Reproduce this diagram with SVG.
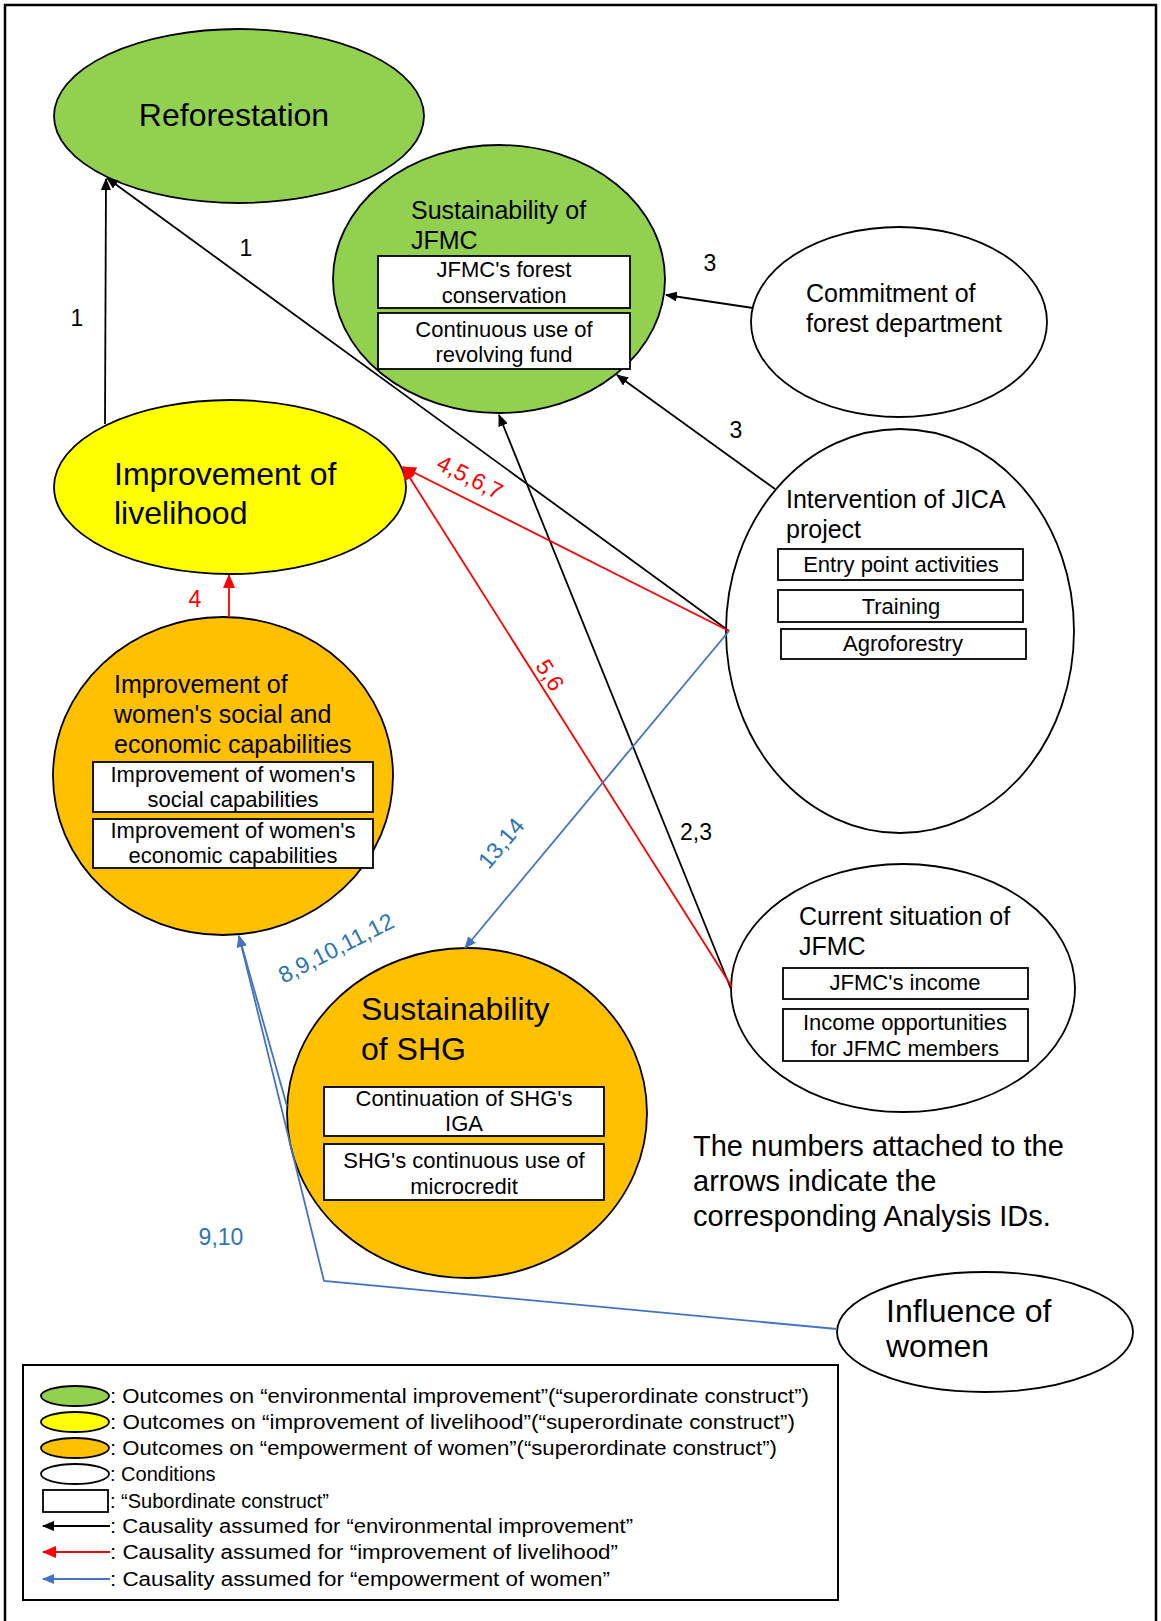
<svg xmlns="http://www.w3.org/2000/svg" width="1161" height="1621" viewBox="0 0 1161 1621">
<style>
  text { font-family: "Liberation Sans", Arial, sans-serif; fill: #000; }
  .node { stroke: #000; stroke-width: 1.8; }
  .green { fill: #92D050; }
  .yellow { fill: #FFFF00; }
  .orange { fill: #FFC000; }
  .cond { fill: #FFFFFF; }
  .box { fill: #FFFFFF; stroke: #000; stroke-width: 1.8; }
  .big { font-size: 32px; }
  .title { font-size: 25px; }
  .bt { font-size: 22px; text-anchor: middle; }
  .note { font-size: 29px; }
  .conn { fill: none; stroke-width: 1.8; }
  .k { stroke: #000; }
  .r { stroke: #FF0000; }
  .b { stroke: #4472C4; }
  .lbl { font-size: 23px; }
  .lk { fill: #000; }
  .lr { fill: #FF0000; }
  .lb { fill: #2E75B6; }
  .lg { font-size: 20px; }
</style>
<defs>
  <marker id="ak" viewBox="0 0 12 10" refX="11" refY="5" markerWidth="12" markerHeight="10" markerUnits="userSpaceOnUse" orient="auto">
    <path d="M0,0 L12,5 L0,10 z" fill="#000"/>
  </marker>
  <marker id="ar" viewBox="0 0 14 12" refX="13" refY="6" markerWidth="14" markerHeight="12" markerUnits="userSpaceOnUse" orient="auto">
    <path d="M0,0 L14,6 L0,12 z" fill="#FF0000"/>
  </marker>
  <marker id="ab" viewBox="0 0 12 10" refX="11" refY="5" markerWidth="12" markerHeight="10" markerUnits="userSpaceOnUse" orient="auto">
    <path d="M0,0 L12,5 L0,10 z" fill="#4472C4"/>
  </marker>
</defs>

<rect width="1161" height="1621" fill="#FFFFFF"/>
<!-- page frame (open at the bottom) -->
<path d="M5,1621 V5 H1156 V1621" fill="none" stroke="#000" stroke-width="2.5"/>

<!-- Reforestation -->
<g id="reforestation">
  <ellipse class="node green" cx="239" cy="116" rx="185" ry="87"/>
  <text class="big" x="234" y="126" text-anchor="middle">Reforestation</text>
</g>

<!-- Sustainability of JFMC -->
<g id="jfmc-sustainability">
  <ellipse class="node green" cx="499" cy="279" rx="166" ry="134"/>
  <text class="title" x="411" y="219">Sustainability of</text>
  <text class="title" x="411" y="249">JFMC</text>
  <rect class="box" x="378" y="256" width="252" height="52"/>
  <text class="bt" x="504" y="277">JFMC's forest</text>
  <text class="bt" x="504" y="303">conservation</text>
  <rect class="box" x="378" y="313" width="252" height="56"/>
  <text class="bt" x="504" y="337">Continuous use of</text>
  <text class="bt" x="504" y="362">revolving fund</text>
</g>

<!-- Commitment of forest department -->
<g id="commitment">
  <ellipse class="node cond" cx="899" cy="322" rx="148" ry="95"/>
  <text class="title" x="806" y="302">Commitment of</text>
  <text class="title" x="806" y="332">forest department</text>
</g>

<!-- Improvement of livelihood -->
<g id="livelihood">
  <ellipse class="node yellow" cx="230" cy="487" rx="176" ry="87"/>
  <text class="big" x="114" y="485">Improvement of</text>
  <text class="big" x="114" y="524">livelihood</text>
</g>

<!-- Intervention of JICA project -->
<g id="jica-intervention">
  <ellipse class="node cond" cx="900" cy="631" rx="174" ry="202"/>
  <text class="title" x="786" y="508">Intervention of JICA</text>
  <text class="title" x="786" y="538">project</text>
  <rect class="box" x="778" y="549" width="245" height="31"/>
  <text class="bt" x="901" y="572">Entry point activities</text>
  <rect class="box" x="778" y="590" width="245" height="32"/>
  <text class="bt" x="901" y="614">Training</text>
  <rect class="box" x="781" y="629" width="245" height="30"/>
  <text class="bt" x="903" y="651">Agroforestry</text>
</g>

<!-- Improvement of women's social and economic capabilities -->
<g id="women-capabilities">
  <ellipse class="node orange" cx="223" cy="776" rx="170" ry="159"/>
  <text class="title" x="114" y="693">Improvement of</text>
  <text class="title" x="114" y="723">women's social and</text>
  <text class="title" x="114" y="753">economic capabilities</text>
  <rect class="box" x="93" y="762" width="280" height="50"/>
  <text class="bt" x="233" y="782">Improvement of women's</text>
  <text class="bt" x="233" y="807">social capabilities</text>
  <rect class="box" x="93" y="819" width="280" height="49"/>
  <text class="bt" x="233" y="838">Improvement of women's</text>
  <text class="bt" x="233" y="863">economic capabilities</text>
</g>

<!-- Current situation of JFMC -->
<g id="jfmc-current">
  <ellipse class="node cond" cx="903" cy="988" rx="172" ry="124"/>
  <text class="title" x="799" y="925">Current situation of</text>
  <text class="title" x="799" y="955">JFMC</text>
  <rect class="box" x="783" y="968" width="245" height="31"/>
  <text class="bt" x="905" y="990">JFMC's income</text>
  <rect class="box" x="783" y="1009" width="245" height="52"/>
  <text class="bt" x="905" y="1030">Income opportunities</text>
  <text class="bt" x="905" y="1056">for JFMC members</text>
</g>

<!-- Sustainability of SHG -->
<g id="shg-sustainability">
  <ellipse class="node orange" cx="467" cy="1113" rx="180" ry="165"/>
  <text class="big" x="361" y="1020">Sustainability</text>
  <text class="big" x="361" y="1060">of SHG</text>
  <rect class="box" x="324" y="1087" width="280" height="49"/>
  <text class="bt" x="464" y="1106">Continuation of SHG's</text>
  <text class="bt" x="464" y="1131">IGA</text>
  <rect class="box" x="324" y="1144" width="280" height="56"/>
  <text class="bt" x="464" y="1168">SHG's continuous use of</text>
  <text class="bt" x="464" y="1194">microcredit</text>
</g>

<!-- Influence of women -->
<g id="women-influence">
  <ellipse class="node cond" cx="985" cy="1332" rx="148" ry="60"/>
  <text class="big" x="886" y="1322">Influence of</text>
  <text class="big" x="886" y="1357">women</text>
</g>

<!-- explanatory note -->
<g id="note">
  <text class="note" x="693" y="1156">The numbers attached to the</text>
  <text class="note" x="693" y="1191">arrows indicate the</text>
  <text class="note" x="693" y="1226">corresponding Analysis IDs.</text>
</g>

<!-- connectors -->
<g id="connectors">
  <!-- environmental improvement (black) -->
  <line class="conn k" x1="105" y1="424" x2="106" y2="179" marker-end="url(#ak)"/>
  <line class="conn k" x1="729" y1="631" x2="107" y2="178" marker-end="url(#ak)"/>
  <line class="conn k" x1="753" y1="308" x2="666" y2="295" marker-end="url(#ak)"/>
  <line class="conn k" x1="775" y1="489" x2="617" y2="375" marker-end="url(#ak)"/>
  <line class="conn k" x1="731" y1="989" x2="499" y2="415" marker-end="url(#ak)"/>
  <!-- improvement of livelihood (red) -->
  <line class="conn r" x1="729" y1="631" x2="403" y2="467" marker-end="url(#ar)"/>
  <line class="conn r" x1="732" y1="987" x2="403" y2="467" marker-end="url(#ar)"/>
  <line class="conn r" x1="229" y1="617" x2="229" y2="575" marker-end="url(#ar)"/>
  <!-- empowerment of women (blue) -->
  <line class="conn b" x1="729" y1="631" x2="465" y2="948" marker-end="url(#ab)"/>
  <line class="conn b" x1="287" y1="1106" x2="239" y2="936" marker-end="url(#ab)"/>
  <polyline class="conn b" points="837,1329 324,1281 239,936" marker-end="url(#ab)"/>

  <!-- analysis ID labels -->
  <text class="lbl lk" x="77" y="326" text-anchor="middle">1</text>
  <text class="lbl lk" x="246" y="256" text-anchor="middle">1</text>
  <text class="lbl lk" x="710" y="271" text-anchor="middle">3</text>
  <text class="lbl lk" x="736" y="438" text-anchor="middle">3</text>
  <text class="lbl lk" x="696" y="840" text-anchor="middle">2,3</text>
  <text class="lbl lr" x="195" y="607" text-anchor="middle">4</text>
  <text class="lbl lr" x="0" y="0" text-anchor="middle" dominant-baseline="central" transform="translate(470,477) rotate(27)">4,5,6,7</text>
  <text class="lbl lr" x="0" y="0" text-anchor="middle" dominant-baseline="central" transform="translate(550,675) rotate(58)">5,6</text>
  <text class="lbl lb" x="0" y="0" text-anchor="middle" dominant-baseline="central" transform="translate(501,843) rotate(-50)">13,14</text>
  <text class="lbl lb" x="0" y="0" text-anchor="middle" dominant-baseline="central" font-size="24" transform="translate(336,948) rotate(-27)">8,9,10,11,12</text>
  <text class="lbl lb" x="221" y="1245" text-anchor="middle">9,10</text>
</g>

<!-- legend -->
<g id="legend">
  <rect x="23" y="1365" width="815" height="235" fill="#FFFFFF" stroke="#000" stroke-width="2"/>
  <ellipse class="node green" cx="75" cy="1396" rx="34" ry="10"/>
  <ellipse class="node yellow" cx="75" cy="1422" rx="34" ry="10"/>
  <ellipse class="node orange" cx="75" cy="1448" rx="34" ry="10"/>
  <ellipse class="node cond" cx="75" cy="1474" rx="34" ry="10"/>
  <rect class="box" x="43" y="1490" width="65" height="22"/>
  <line class="conn k" x1="110" y1="1526" x2="43" y2="1526" marker-end="url(#ak)"/>
  <line class="conn r" x1="110" y1="1552" x2="43" y2="1552" marker-end="url(#ar)"/>
  <line class="conn b" x1="110" y1="1579" x2="43" y2="1579" marker-end="url(#ab)"/>
  <text class="lg" x="110" y="1403" textLength="699" lengthAdjust="spacingAndGlyphs">: Outcomes on “environmental improvement”(“superordinate construct”)</text>
  <text class="lg" x="110" y="1429" textLength="685" lengthAdjust="spacingAndGlyphs">: Outcomes on “improvement of livelihood”(“superordinate construct”)</text>
  <text class="lg" x="110" y="1455" textLength="667" lengthAdjust="spacingAndGlyphs">: Outcomes on “empowerment of women”(“superordinate construct”)</text>
  <text class="lg" x="110" y="1481">: Conditions</text>
  <text class="lg" x="110" y="1508">: “Subordinate construct”</text>
  <text class="lg" x="110" y="1533" textLength="523" lengthAdjust="spacingAndGlyphs">: Causality assumed for “environmental improvement”</text>
  <text class="lg" x="110" y="1559" textLength="508" lengthAdjust="spacingAndGlyphs">: Causality assumed for “improvement of livelihood”</text>
  <text class="lg" x="110" y="1586" textLength="500" lengthAdjust="spacingAndGlyphs">: Causality assumed for “empowerment of women”</text>
</g>
</svg>
